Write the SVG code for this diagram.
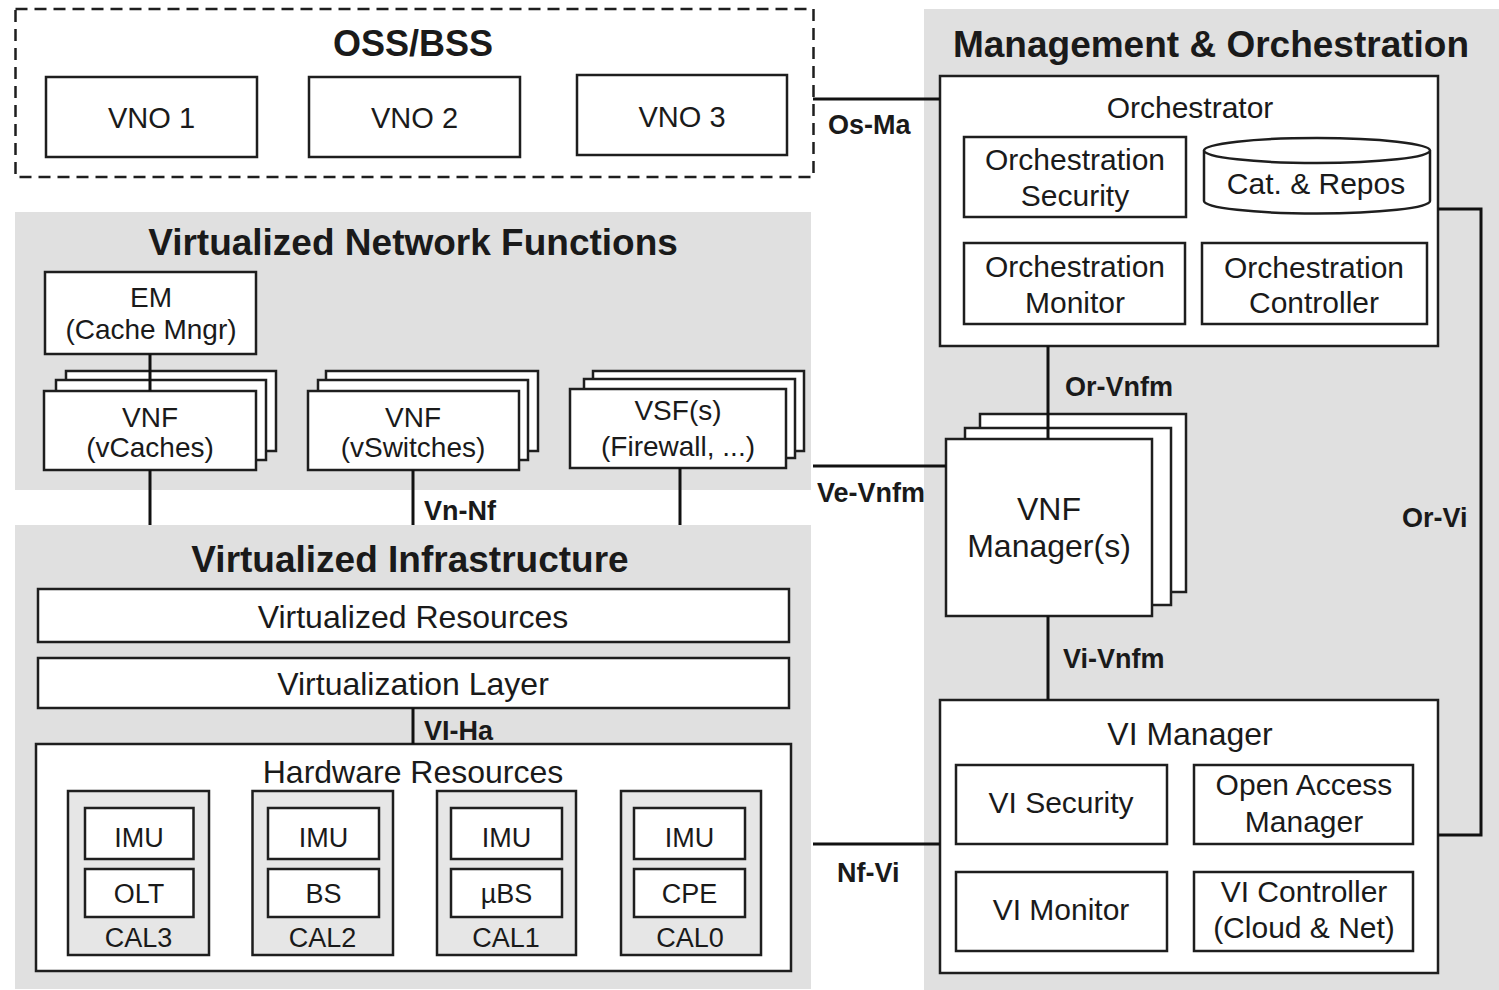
<svg xmlns="http://www.w3.org/2000/svg" width="1499" height="990" viewBox="0 0 1499 990">
<defs>
<style>
.bg{fill:#e0e0e0}
.box{fill:#fff;stroke:#1e1e1e;stroke-width:2.5}
.cal{fill:#e6e6e6;stroke:#1e1e1e;stroke-width:2.5}
.dash{fill:#fff;stroke:#1e1e1e;stroke-width:2.5;stroke-dasharray:12 7}
.conn{fill:none;stroke:#111;stroke-width:3}
text{font-family:"Liberation Sans",Arial,Helvetica,sans-serif;fill:#1a1a1a;text-anchor:middle}
.title{font-weight:bold;font-size:37px}
.lbl{font-weight:bold;font-size:27px;text-anchor:start}
.s27{font-size:27px}
.s28{font-size:28px}
.s29{font-size:29px}
.s30{font-size:30px}
.s32{font-size:32px}
</style>
</defs>
<rect width="1499" height="990" fill="#fff"/>

<g id="oss-bss">
<rect class="dash" x="15.5" y="9" width="798" height="168"/>
<text class="title" x="413" y="56" style="font-size:36px">OSS/BSS</text>
</g>
<g id="vno1"><rect class="box" x="46" y="77" width="211" height="80"/><text class="s29" x="151.5" y="128">VNO 1</text></g>
<g id="vno2"><rect class="box" x="309" y="77" width="211" height="80"/><text class="s29" x="414.5" y="128">VNO 2</text></g>
<g id="vno3"><rect class="box" x="577" y="75" width="210" height="80"/><text class="s29" x="682" y="127">VNO 3</text></g>

<g id="mano">
<rect class="bg" x="924" y="9" width="575" height="981"/>
<text class="title" x="1211" y="57">Management &amp; Orchestration</text>
</g>
<g id="orchestrator">
<rect class="box" x="940" y="76" width="498" height="270"/>
<text class="s30" x="1190" y="118">Orchestrator</text>
</g>
<g id="orch-security"><rect class="box" x="964" y="137" width="222" height="80"/><text class="s30" x="1075" y="170">Orchestration</text><text class="s30" x="1075" y="206">Security</text></g>
<g id="cat-repos">
<path class="box" d="M1204,150.5 V201 A113,12.5 0 0 0 1430,201 V150.5"/>
<ellipse class="box" cx="1317" cy="150.5" rx="113" ry="12.5"/>
<text class="s30" x="1316" y="194">Cat. &amp; Repos</text>
</g>
<g id="orch-monitor"><rect class="box" x="964" y="243" width="221" height="81"/><text class="s30" x="1075" y="277">Orchestration</text><text class="s30" x="1075" y="313">Monitor</text></g>
<g id="orch-controller"><rect class="box" x="1202" y="243" width="225" height="81"/><text class="s30" x="1314" y="278">Orchestration</text><text class="s30" x="1314" y="313">Controller</text></g>

<g id="vnf-manager">
<rect class="box" x="980" y="414" width="206" height="178"/>
<rect class="box" x="965" y="428" width="206" height="177"/>
<rect class="box" x="946" y="439" width="206" height="177"/>
<text class="s32" x="1049" y="520">VNF</text>
<text class="s32" x="1049" y="557">Manager(s)</text>
</g>

<g id="vi-manager">
<rect class="box" x="940" y="700" width="498" height="273"/>
<text class="s32" x="1190" y="745">VI Manager</text>
</g>
<g id="vi-security"><rect class="box" x="956" y="765" width="211" height="79"/><text class="s30" x="1061" y="813">VI Security</text></g>
<g id="open-access"><rect class="box" x="1194" y="765" width="219" height="79"/><text class="s30" x="1304" y="795">Open Access</text><text class="s30" x="1304" y="832">Manager</text></g>
<g id="vi-monitor"><rect class="box" x="956" y="872" width="211" height="79"/><text class="s30" x="1061" y="920">VI Monitor</text></g>
<g id="vi-controller"><rect class="box" x="1194" y="872" width="219" height="79"/><text class="s30" x="1304" y="902">VI Controller</text><text class="s30" x="1304" y="938">(Cloud &amp; Net)</text></g>

<g id="vnf-area">
<rect class="bg" x="15" y="212" width="796" height="278"/>
<text class="title" x="413" y="255">Virtualized Network Functions</text>
</g>
<g id="em"><rect class="box" x="45" y="272" width="211" height="82"/><text class="s28" x="151" y="307">EM</text><text class="s28" x="151" y="339">(Cache Mngr)</text></g>
<g id="vnf-vcaches">
<rect class="box" x="66" y="371" width="210" height="80"/>
<rect class="box" x="56" y="380" width="210" height="80"/>
<rect class="box" x="44" y="391" width="212" height="79"/>
<text class="s28" x="150" y="427">VNF</text><text class="s28" x="150" y="457">(vCaches)</text>
</g>
<g id="vnf-vswitches">
<rect class="box" x="326" y="371" width="212" height="80"/>
<rect class="box" x="318" y="380" width="210" height="80"/>
<rect class="box" x="308" y="391" width="211" height="79"/>
<text class="s28" x="413" y="427">VNF</text><text class="s28" x="413" y="457">(vSwitches)</text>
</g>
<g id="vsf">
<rect class="box" x="593" y="371" width="211" height="80"/>
<rect class="box" x="584" y="379" width="211" height="79"/>
<rect class="box" x="570" y="389" width="216" height="79"/>
<text class="s28" x="678" y="420">VSF(s)</text><text class="s28" x="678" y="456">(Firewall, ...)</text>
</g>

<g id="vi-area">
<rect class="bg" x="15" y="525" width="796" height="464"/>
<text class="title" x="410" y="572">Virtualized Infrastructure</text>
</g>
<g id="virtualized-resources"><rect class="box" x="38" y="589" width="751" height="53"/><text class="s32" x="413" y="628">Virtualized Resources</text></g>
<g id="virtualization-layer"><rect class="box" x="38" y="658" width="751" height="50"/><text class="s32" x="413" y="695">Virtualization Layer</text></g>
<g id="hardware-resources"><rect class="box" x="36" y="744" width="755" height="227"/><text class="s32" x="413" y="783">Hardware Resources</text></g>
<g id="cal3">
<rect class="cal" x="68" y="791" width="141" height="164"/>
<rect class="box" x="85" y="808" width="108.5" height="51"/><text class="s27" x="139" y="847">IMU</text>
<rect class="box" x="85" y="869" width="108.5" height="48"/><text class="s27" x="139" y="903">OLT</text>
<text class="s27" x="138.5" y="947">CAL3</text>
</g>
<g id="cal2">
<rect class="cal" x="252.5" y="791" width="140.5" height="164"/>
<rect class="box" x="268" y="808" width="111" height="51"/><text class="s27" x="323.5" y="847">IMU</text>
<rect class="box" x="268" y="869" width="111" height="48"/><text class="s27" x="323.5" y="903">BS</text>
<text class="s27" x="322.5" y="947">CAL2</text>
</g>
<g id="cal1">
<rect class="cal" x="437" y="791" width="139" height="164"/>
<rect class="box" x="451" y="808" width="111" height="51"/><text class="s27" x="506.5" y="847">IMU</text>
<rect class="box" x="451" y="869" width="111" height="48"/><text class="s27" x="506.5" y="903">µBS</text>
<text class="s27" x="506" y="947">CAL1</text>
</g>
<g id="cal0">
<rect class="cal" x="621" y="791" width="140" height="164"/>
<rect class="box" x="634" y="808" width="111" height="51"/><text class="s27" x="689.5" y="847">IMU</text>
<rect class="box" x="634" y="869" width="111" height="48"/><text class="s27" x="689.5" y="903">CPE</text>
<text class="s27" x="690" y="947">CAL0</text>
</g>

<g id="connectors">
<path class="conn" d="M813,99 H940"/>
<path class="conn" d="M1048,346 V439"/>
<path class="conn" d="M813,466 H946"/>
<path class="conn" d="M1048,616 V700"/>
<path class="conn" d="M813,844 H940"/>
<path class="conn" d="M1438,209 H1481 V835 H1438"/>
<path class="conn" d="M150,354 V391"/>
<path class="conn" d="M150,470 V525"/>
<path class="conn" d="M413,470 V525"/>
<path class="conn" d="M680,468 V525"/>
<path class="conn" d="M413,708 V744"/>
<text class="lbl" x="828" y="134">Os-Ma</text>
<text class="lbl" x="1065" y="396">Or-Vnfm</text>
<text class="lbl" x="817" y="502">Ve-Vnfm</text>
<text class="lbl" x="1063" y="668">Vi-Vnfm</text>
<text class="lbl" x="837" y="882">Nf-Vi</text>
<text class="lbl" x="1402" y="527">Or-Vi</text>
<text class="lbl" x="424" y="520">Vn-Nf</text>
<text class="lbl" x="424" y="740">VI-Ha</text>
</g>
</svg>
